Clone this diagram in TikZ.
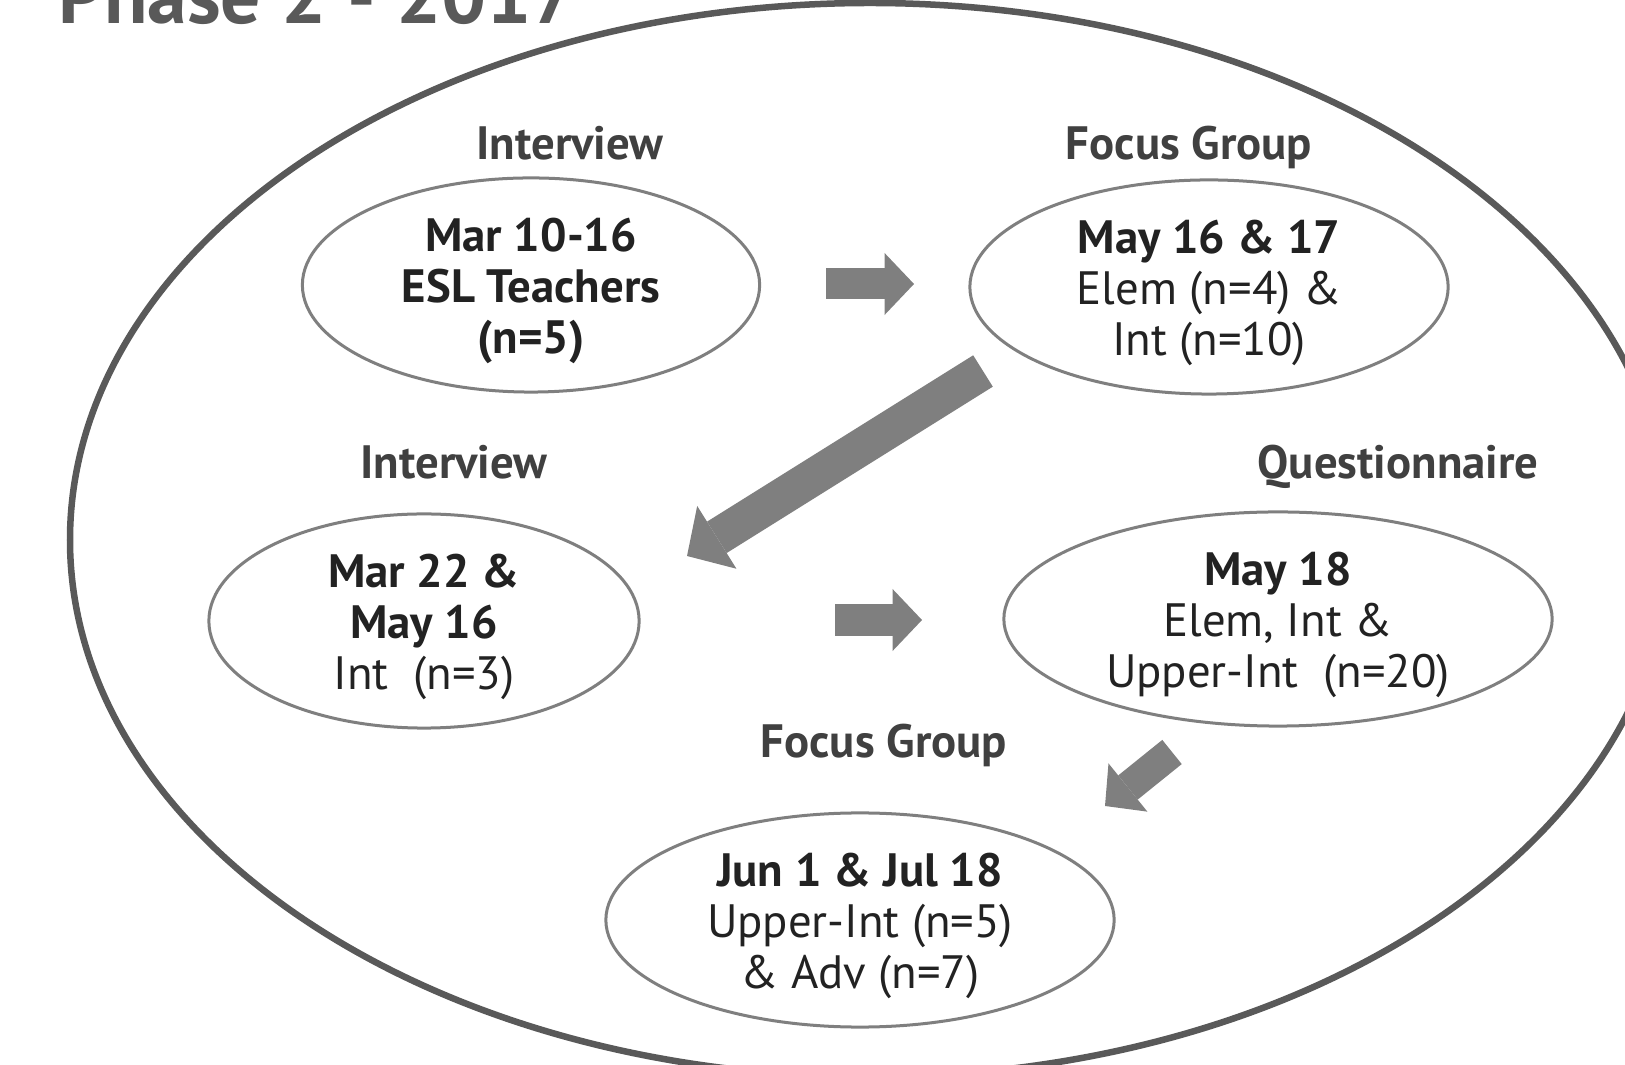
\documentclass[tikz,border=0pt]{standalone}
\usepackage{fontspec}
\setmainfont{PT Sans}
\usetikzlibrary{arrows.meta,positioning,shapes.geometric}
\definecolor{rim}{HTML}{595959}
\definecolor{oval}{HTML}{7F7F7F}
\definecolor{ink}{HTML}{222222}
\definecolor{caption}{HTML}{404040}
\newcommand\datehead[1]{\rule{0pt}{12.8pt}\textbf{#1}}
\tikzset{
  stagebox/.style={
    ellipse, draw=oval, line width=0.03cm, fill=white,
    minimum width=#1, minimum height=2.14cm, inner xsep=0pt, inner ysep=-3pt,
    font=\fontsize{13.3}{14.5}\selectfont, text=ink, align=center
  },
  stagebox/.default=4.6cm,
  methodlabel/.style={
    anchor=base, font=\fontsize{13.3}{15}\selectfont\bfseries, text=caption
  },
  blockarrow/.style={
    draw=oval, line width=#1,
    -{Triangle[width=2*#1, length=0.95*#1, line width=0pt]}
  },
  blockarrow/.default=0.31cm,
}
\begin{document}
\begin{tikzpicture}[x=0.01cm, y=-0.01cm]
\useasboundingbox (0,0) rectangle (1625,1065);
\clip (0,0) rectangle (1625,1065);
% outer frame
\draw[rim, line width=0.065cm] (870,540) ellipse [x radius=800, y radius=537];
\node[anchor=base west, font=\fontsize{22.7}{26}\selectfont\bfseries, text=rim] (title) at (46,24) {Phase 2 - 2017};

% stages
\node[stagebox=4.57cm] (s1) at (531,285) {\datehead{Mar 10-16}\\ \textbf{ESL Teachers}\\ \textbf{(n=5)}};
\node[stagebox=4.78cm] (s2) at (1209,287) {\datehead{May 16 \& 17}\\ Elem (n=4) \&\\ Int (n=10)};
\node[stagebox=4.30cm] (s3) at (424,621) {\datehead{Mar 22 \&}\\ \textbf{May 16}\\ Int~~(n=3)};
\node[stagebox=5.48cm] (s4) at (1278,619) {\datehead{May 18}\\ Elem, Int \&\\ Upper-Int~~(n=20)};
\node[stagebox=5.08cm] (s5) at (860,920) {\datehead{Jun 1 \& Jul 18}\\ Upper-Int (n=5)\\ \& Adv (n=7)};

% method labels
\node[methodlabel] (m1) at (570,160) {Interview};
\node[methodlabel] (m2) at (1189,160) {Focus Group};
\node[methodlabel] (m3) at (454,479) {Interview};
\node[methodlabel] (m4) at (1398,479) {Questionnaire};
\node[methodlabel] (m5) at (884,758) {Focus Group};

% arrows between stages
\coordinate (a1s) at (826,284);  \coordinate (a1e) at (914,284);
\coordinate (a2s) at (983,371);  \coordinate (a2e) at (687,556);
\coordinate (a3s) at (835,620);  \coordinate (a3e) at (922,620);
\coordinate (a4s) at (1172,752); \coordinate (a4e) at (1105,806);
\draw[blockarrow] (a1s) -- (a1e);
\draw[blockarrow=0.37cm] (a2s) -- (a2e);
\draw[blockarrow] (a3s) -- (a3e);
\draw[blockarrow] (a4s) -- (a4e);
\end{tikzpicture}
\end{document}
